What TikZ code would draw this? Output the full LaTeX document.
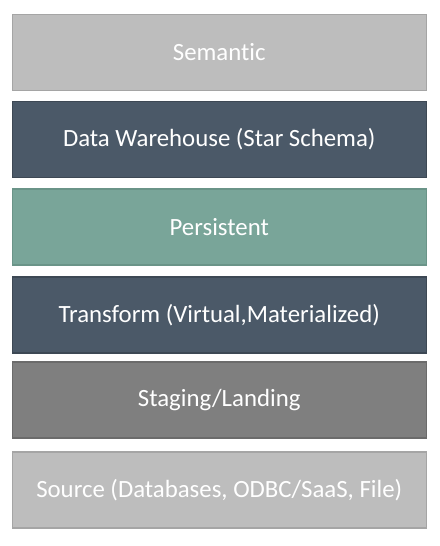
\documentclass[tikz,border=0pt]{standalone}
\usepackage{fontspec}
\setmainfont[Ligatures={NoCommon}]{Carlito}
\definecolor{semfill}{HTML}{BDBDBD}
\definecolor{semline}{HTML}{A5A5A5}
\definecolor{dwfill}{HTML}{4B5968}
\definecolor{dwline}{HTML}{3D4854}
\definecolor{perfill}{HTML}{79A599}
\definecolor{perline}{HTML}{6A9488}
\definecolor{stgfill}{HTML}{7F7F7F}
\definecolor{stgline}{HTML}{6B6B6B}
\begin{document}
\begin{tikzpicture}[x=1pt,y=-1pt,
  layer/.style={draw, line width=1.5pt, minimum width=414pt, minimum height=76pt,
    inner sep=0pt, text=white, font=\fontsize{24.8}{29}\selectfont, anchor=north west}]
\useasboundingbox (0,0) rectangle (439,546);
\node[layer, fill=semfill, draw=semline] (sem) at (11.5,13.5) {Semantic};
\node[layer, fill=dwfill, draw=dwline] (dw) at (11.5,100.5) {Data Warehouse (Star Schema)};
\node[layer, fill=perfill, draw=perline] (per) at (11.5,188) {Persistent};
\node[layer, fill=dwfill, draw=dwline] (tr) at (11.5,276) {Transform (Virtual,Materialized)};
\node[layer, fill=stgfill, draw=stgline] (stg) at (11.5,361) {Staging/Landing};
\node[layer, fill=semfill, draw=semline] (src) at (11.5,451) {Source (Databases, ODBC/SaaS, File)};
\end{tikzpicture}
\end{document}
